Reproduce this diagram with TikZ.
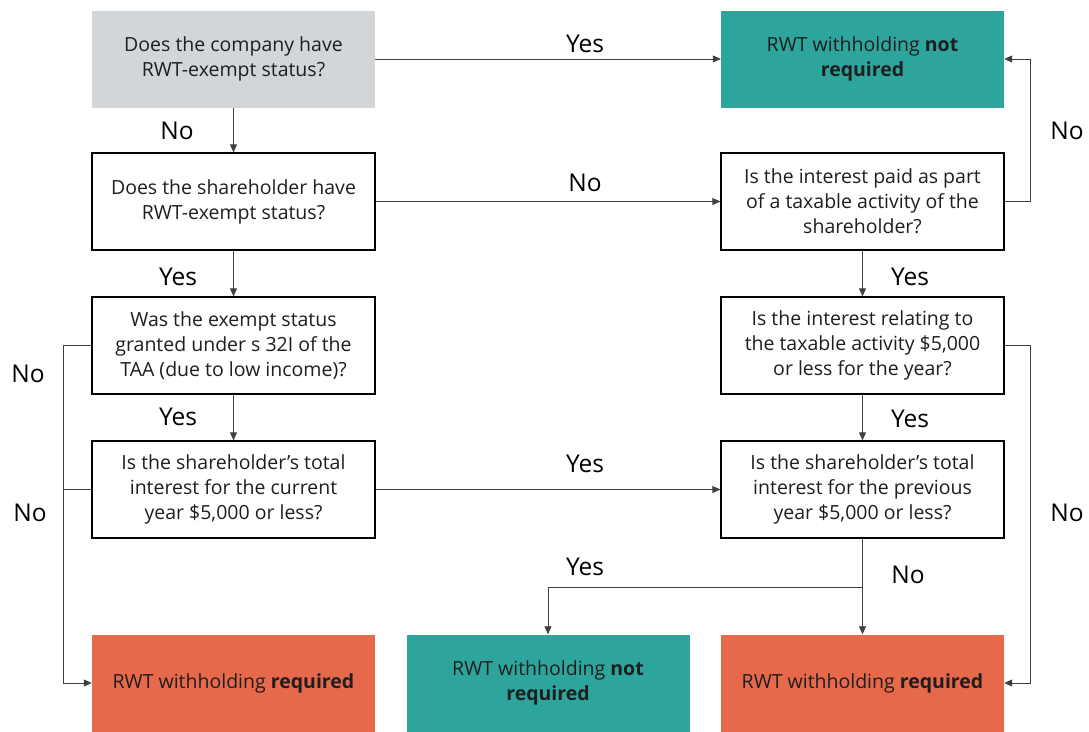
\documentclass[tikz,border=0pt]{standalone}
\usepackage{fontspec}
\setmainfont{Open Sans}
\usetikzlibrary{arrows.meta}
\definecolor{greyfill}{HTML}{D3D6D9}
\definecolor{tealfill}{HTML}{2DA59D}
\definecolor{orangefill}{HTML}{E6694B}
\definecolor{txt}{HTML}{1E1E1E}
\begin{document}
\begin{tikzpicture}[x=1pt,y=-1pt,
  box/.style={minimum width=283pt,minimum height=97pt,inner sep=0pt,align=center,
    font=\fontsize{19.5}{25}\selectfont,text=txt},
  qbox/.style={box,draw=black,line width=1.3pt,fill=white},
  greybox/.style={box,fill=greyfill},
  tealbox/.style={box,fill=tealfill},
  orangebox/.style={box,fill=orangefill},
  conn/.style={draw=black!75,line width=0.8pt},
  arr/.style={conn,-{Triangle[length=8pt,width=7pt]}},
  lbl/.style={font=\fontsize{24.5}{28}\selectfont,text=black}]
\useasboundingbox (0,0) rectangle (1089,731);
\node[greybox] (q1) at (233.5,59) {Does the company have\\RWT-exempt status?};
\node[tealbox] (r1) at (862.5,59) {RWT withholding \textbf{not}\\\textbf{required}};
\node[qbox] (q2) at (233.5,201.5) {Does the shareholder have\\RWT-exempt status?};
\node[qbox] (q3) at (862.5,201.5) {Is the interest paid as part\\of a taxable activity of the\\shareholder?};
\node[qbox] (q4) at (233.5,345.5) {Was the exempt status\\granted under s 32I of the\\TAA (due to low income)?};
\node[qbox] (q5) at (862.5,345.5) {Is the interest relating to\\the taxable activity \$5,000\\or less for the year?};
\node[qbox] (q6) at (233.5,489.5) {Is the shareholder’s total\\interest for the current\\year \$5,000 or less?};
\node[qbox] (q7) at (862.5,489.5) {Is the shareholder’s total\\interest for the previous\\year \$5,000 or less?};
\node[orangebox] (r2) at (233.5,683) {RWT withholding \textbf{required}};
\node[tealbox] (r3) at (548,683) {RWT withholding \textbf{not}\\\textbf{required}};
\node[orangebox] (r4) at (862.5,683) {RWT withholding \textbf{required}};
\coordinate (lx) at (63,0);
\coordinate (rx) at (1030,0);
\coordinate (split) at (862.5,587);
% arrows
\draw[arr] (q1.east) -- (r1.west);
\draw[arr] (q1.south) -- (q2.north);
\draw[arr] (q2.east) -- (q3.west);
\draw[arr] (q3.east) -- (q3.east -| rx) -- (r1.east -| rx) -- (r1.east);
\draw[arr] (q2.south) -- (q4.north);
\draw[arr] (q3.south) -- (q5.north);
\draw[arr] (q4.south) -- (q6.north);
\draw[arr] (q5.south) -- (q7.north);
\draw[arr] (q6.east) -- (q7.west);
\draw[arr] (q4.west) -- (q4.west -| lx) -- (r2.west -| lx) -- (r2.west);
\draw[conn] (q6.west) -- (q6.west -| lx);
\draw[arr] (q5.east) -- (q5.east -| rx) -- (r4.east -| rx) -- (r4.east);
\draw[arr] (q7.south) -- (r4.north);
\draw[arr] (split) -- (split -| r3.north) -- (r3.north);
% labels
\node[lbl] (l1) at (585,44) {Yes};
\node[lbl] (l2) at (177,131) {No};
\node[lbl] (l3) at (585,183) {No};
\node[lbl] (l4) at (1067,131) {No};
\node[lbl] (l5) at (178,277) {Yes};
\node[lbl] (l6) at (910,277) {Yes};
\node[lbl] (l7) at (28,374) {No};
\node[lbl] (l8) at (178,417) {Yes};
\node[lbl] (l9) at (910,419) {Yes};
\node[lbl] (l10) at (585,464) {Yes};
\node[lbl] (l11) at (30,513) {No};
\node[lbl] (l12) at (1067,513) {No};
\node[lbl] (l13) at (585,567) {Yes};
\node[lbl] (l14) at (908,575) {No};
\end{tikzpicture}
\end{document}
